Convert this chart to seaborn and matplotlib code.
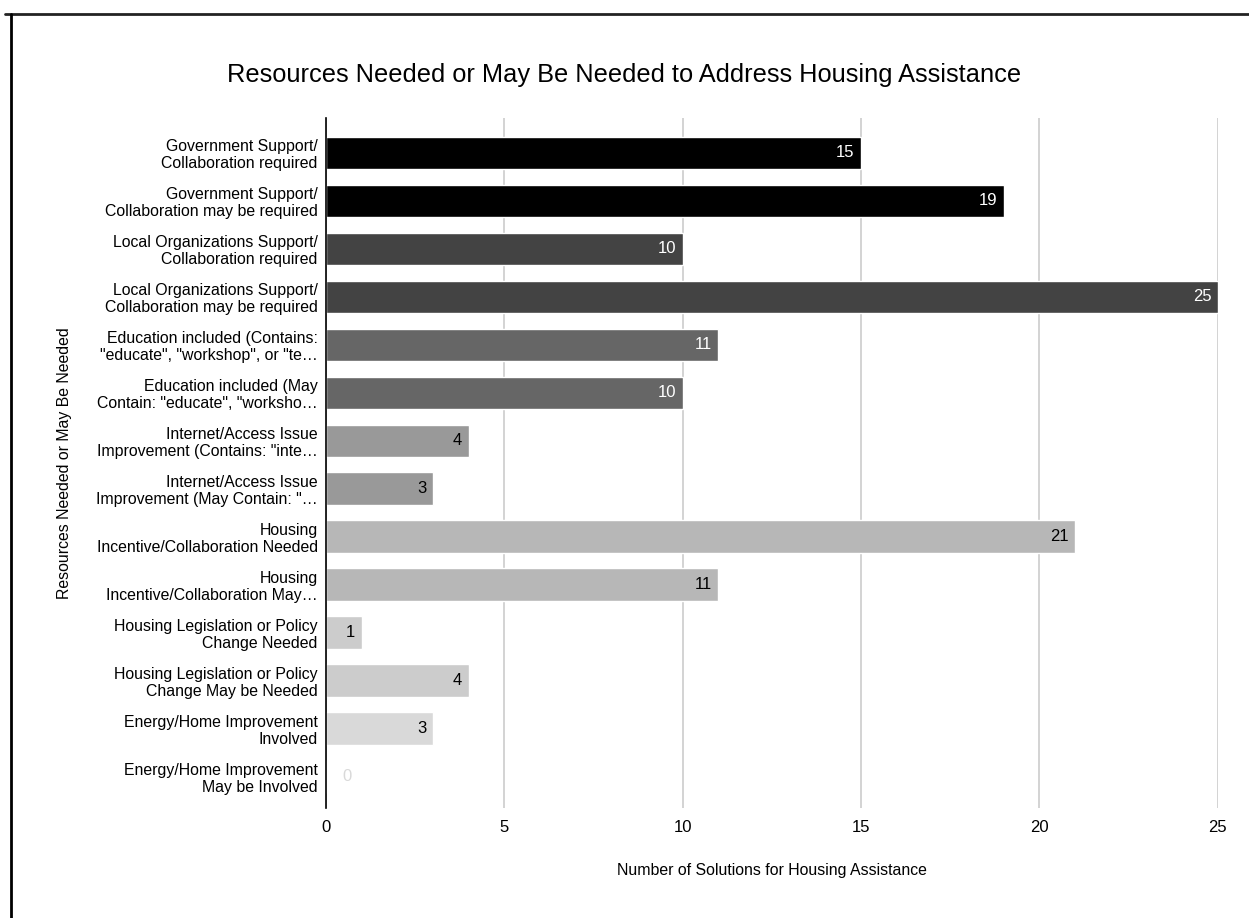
import pandas as pd
import matplotlib.pyplot as plt
import seaborn as sns
from matplotlib.lines import Line2D

# Data
categories = [
    "Government Support/\nCollaboration required",
    "Government Support/\nCollaboration may be required",
    "Local Organizations Support/\nCollaboration required",
    "Local Organizations Support/\nCollaboration may be required",
    "Education included (Contains:\n\"educate\", \"workshop\", or \"te\u2026",
    "Education included (May\nContain: \"educate\", \"worksho\u2026",
    "Internet/Access Issue\nImprovement (Contains: \"inte\u2026",
    "Internet/Access Issue\nImprovement (May Contain: \"\u2026",
    "Housing\nIncentive/Collaboration Needed",
    "Housing\nIncentive/Collaboration May\u2026",
    "Housing Legislation or Policy\nChange Needed",
    "Housing Legislation or Policy\nChange May be Needed",
    "Energy/Home Improvement\nInvolved",
    "Energy/Home Improvement\nMay be Involved",
]
counts = [15, 19, 10, 25, 11, 10, 4, 3, 21, 11, 1, 4, 3, 0]
bar_colors = ["#000000", "#000000", "#434343", "#434343", "#666666", "#666666",
              "#999999", "#999999", "#b7b7b7", "#b7b7b7", "#cccccc", "#cccccc",
              "#d9d9d9", "#d9d9d9"]

df = pd.DataFrame({"Resource": categories, "Count": counts})

sns.set_theme(style="white")
plt.rcParams["font.family"] = ["Liberation Sans", "DejaVu Sans"]
plt.rcParams["text.color"] = "black"
plt.rcParams["axes.labelcolor"] = "black"

fig = plt.figure(figsize=(12.49, 9.18), dpi=100)
ax = fig.add_axes([0.261, 0.12, 0.714, 0.7515])

sns.barplot(data=df, y="Resource", x="Count", hue="Resource", palette=bar_colors,
            legend=False, orient="h", width=0.68, ax=ax, saturation=1)

ax.set_xlim(0, 25)
ax.set_ylim(13.65, -0.73)
ax.set_xticks([0, 5, 10, 15, 20, 25])
ax.grid(axis="x", color="#d0d0d0", linewidth=1.3)
ax.set_axisbelow(True)
for s in ["top", "right", "bottom"]:
    ax.spines[s].set_visible(False)
ax.spines["left"].set_color("black")
ax.spines["left"].set_linewidth(1.2)
ax.tick_params(axis="both", length=0, labelsize=11.4, colors="black")
ax.tick_params(axis="y", pad=6)
ax.tick_params(axis="x", pad=9, labelsize=12)
for lbl in ax.get_yticklabels():
    lbl.set_linespacing(1.15)

# value labels inside bars
for i, v in enumerate(counts):
    if v == 0:
        ax.text(0.6, i, "0", ha="center", va="center", fontsize=12, color="#d9d9d9")
        continue
    txt_color = "white" if i < 6 else "black"
    ax.text(v - 0.18, i, str(v), ha="right", va="center", fontsize=12, color=txt_color)

ax.set_xlabel("Number of Solutions for Housing Assistance", fontsize=11.4, labelpad=20)
ax.set_ylabel("Resources Needed or May Be Needed", fontsize=11.4)
ax.yaxis.set_label_coords(-0.285, 0.5)
fig.text(0.5, 0.918, "Resources Needed or May Be Needed to Address Housing Assistance",
         ha="center", va="center", fontsize=18.3)

# document frame lines
fig.add_artist(Line2D([0.004, 1.0], [0.9847, 0.9847], color="#222222", linewidth=2))
fig.add_artist(Line2D([0.0088, 0.0088], [0.9847, 0.0], color="black", linewidth=2))

fig.savefig("out.png", dpi=100)
